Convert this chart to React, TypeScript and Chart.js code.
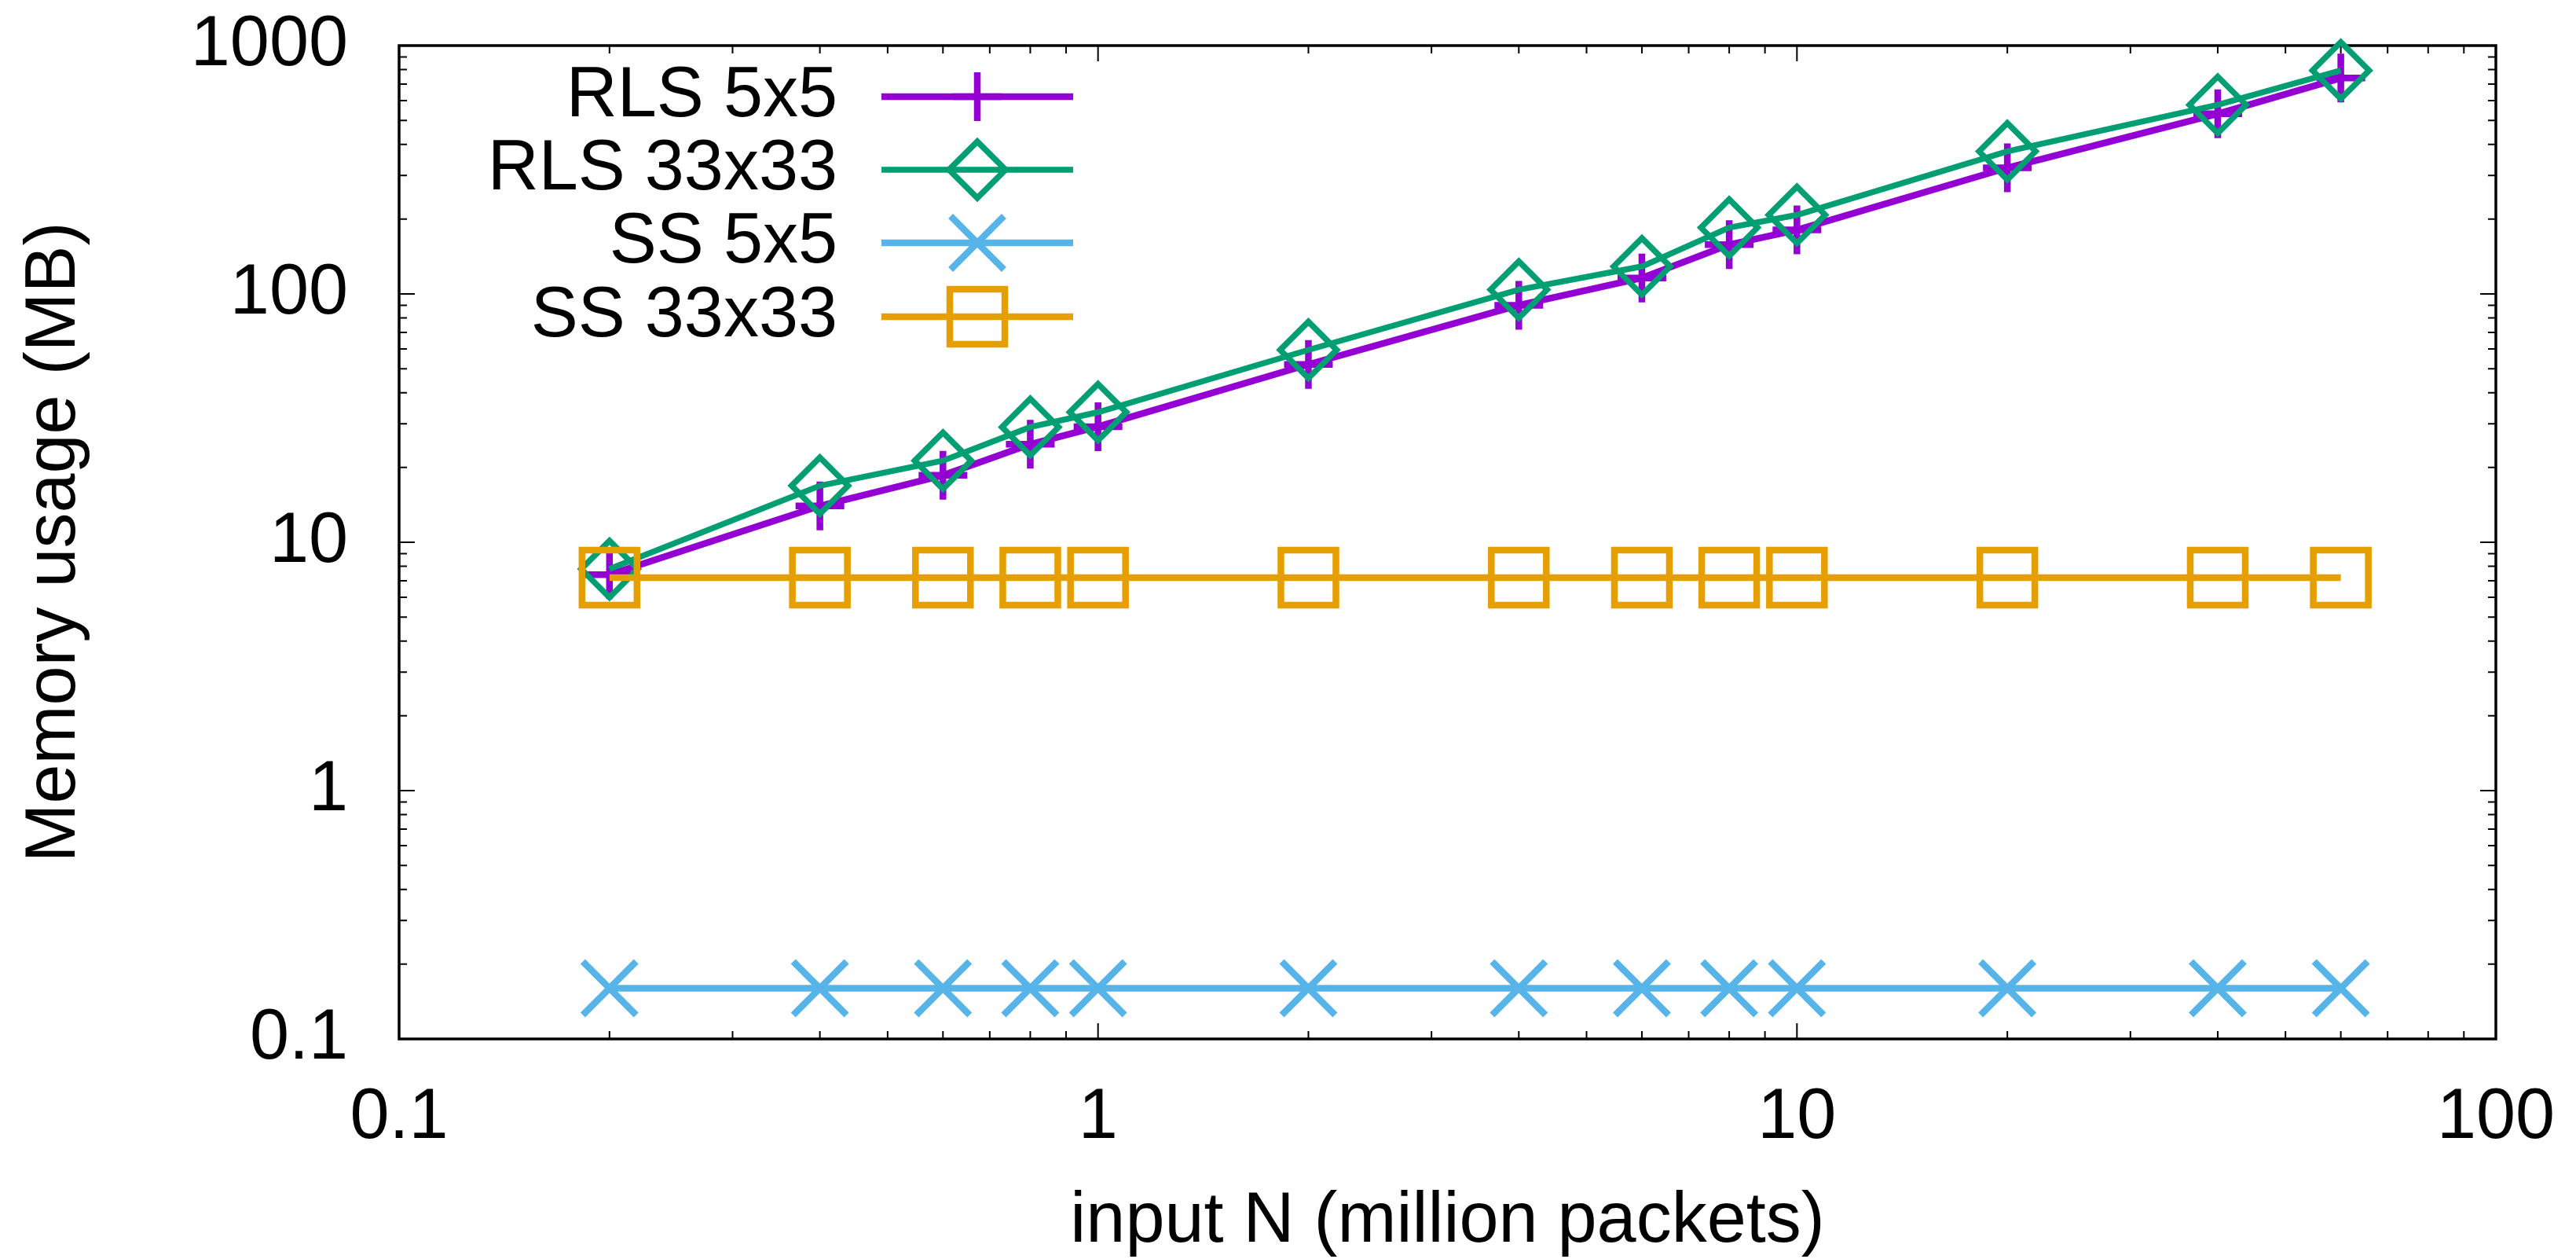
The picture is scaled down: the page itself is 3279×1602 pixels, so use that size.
import React, { useEffect, useRef } from 'react';
import { Chart, registerables } from 'chart.js';

Chart.register(...registerables);

// ---- data ----
const xValues = [0.2, 0.4, 0.6, 0.8, 1, 2, 4, 6, 8, 10, 20, 40, 60];
const rls5x5 = [7.4, 14.0, 18.6, 24.8, 29.2, 52, 90, 116, 158, 181, 322, 531, 740];
const rls33x33 = [7.8, 16.9, 21.3, 29.1, 33.4, 59.5, 104, 129, 185, 208, 375, 577, 794];
const ss5x5 = [0.16, 0.16, 0.16, 0.16, 0.16, 0.16, 0.16, 0.16, 0.16, 0.16, 0.16, 0.16, 0.16];
const ss33x33 = [7.2, 7.2, 7.2, 7.2, 7.2, 7.2, 7.2, 7.2, 7.2, 7.2, 7.2, 7.2, 7.2];

const seriesLabels = ['RLS 5x5', 'RLS 33x33', 'SS 5x5', 'SS 33x33'];
const seriesColors = ['#9400D3', '#009E73', '#56B4E9', '#E69F00'];

const xTickValues = [0.1, 1, 10, 100];
const xTickLabels = ['0.1', '1', '10', '100'];
const yTickValues = [0.1, 1, 10, 100, 1000];
const yTickLabels = ['0.1', '1', '10', '100', '1000'];

const xTitle = 'input N (million packets)';
const yTitle = 'Memory usage (MB)';

const FONT = "'Liberation Sans', Arial, Helvetica, sans-serif";

function toPoints(ys: number[]) {
  return xValues.map((x, i) => ({ x, y: ys[i] }));
}

function minorValues(majors: number[]) {
  const out: number[] = [];
  for (let i = 0; i < majors.length - 1; i++) {
    for (let k = 2; k <= 9; k++) out.push(majors[i] * k);
  }
  return out;
}

function drawMarker(ctx: CanvasRenderingContext2D, style: string, x: number, y: number, r: number) {
  ctx.beginPath();
  if (style === 'cross') {
    ctx.moveTo(x - r, y); ctx.lineTo(x + r, y);
    ctx.moveTo(x, y - r); ctx.lineTo(x, y + r);
  } else if (style === 'crossRot') {
    const d = r * Math.SQRT1_2;
    ctx.moveTo(x - d, y - d); ctx.lineTo(x + d, y + d);
    ctx.moveTo(x + d, y - d); ctx.lineTo(x - d, y + d);
  } else if (style === 'rectRot') {
    ctx.moveTo(x - r, y); ctx.lineTo(x, y - r); ctx.lineTo(x + r, y); ctx.lineTo(x, y + r); ctx.closePath();
  } else if (style === 'rect') {
    const s = r * Math.SQRT1_2;
    ctx.rect(x - s, y - s, 2 * s, 2 * s);
  }
  ctx.stroke();
}

const frameTicksPlugin = {
  id: 'frameTicks',
  beforeDatasetsDraw(chart: any) {
    const { ctx, chartArea } = chart;
    const { left, right, top, bottom } = chartArea;
    const xs = chart.scales.x;
    const ys = chart.scales.y;
    ctx.save();
    ctx.strokeStyle = '#000';
    ctx.lineWidth = 2;
    ctx.beginPath();
    const drawX = (v: number, len: number) => {
      const p = xs.getPixelForValue(v);
      ctx.moveTo(p, bottom); ctx.lineTo(p, bottom - len);
      ctx.moveTo(p, top); ctx.lineTo(p, top + len);
    };
    const drawY = (v: number, len: number) => {
      const p = ys.getPixelForValue(v);
      ctx.moveTo(left, p); ctx.lineTo(left + len, p);
      ctx.moveTo(right, p); ctx.lineTo(right - len, p);
    };
    xTickValues.forEach((v) => drawX(v, 20));
    minorValues(xTickValues).forEach((v) => drawX(v, 10));
    yTickValues.forEach((v) => drawY(v, 20));
    minorValues(yTickValues).forEach((v) => drawY(v, 10));
    ctx.stroke();
    ctx.lineWidth = 3.5;
    ctx.strokeRect(left, top, right - left, bottom - top);
    ctx.restore();
  },
};

const legendPlugin = {
  id: 'gnuLegend',
  afterDatasetsDraw(chart: any) {
    const { ctx } = chart;
    ctx.save();
    const textRight = 1066;
    const lineStart = 1122;
    const lineEnd = 1366;
    const rows = [123, 216, 309, 403];
    chart.data.datasets.forEach((ds: any, i: number) => {
      const y = rows[i];
      ctx.fillStyle = '#000';
      ctx.font = `90px ${FONT}`;
      ctx.textAlign = 'right';
      ctx.textBaseline = 'middle';
      ctx.fillText(ds.label, textRight, y);
      ctx.strokeStyle = ds.borderColor;
      ctx.lineWidth = ds.borderWidth;
      ctx.beginPath();
      ctx.moveTo(lineStart, y);
      ctx.lineTo(lineEnd, y);
      ctx.stroke();
      ctx.lineWidth = ds.pointBorderWidth;
      drawMarker(ctx, ds.pointStyle, (lineStart + lineEnd) / 2, y, ds.pointRadius);
    });
    ctx.restore();
  },
};

const styles = [
  { pointStyle: 'cross', pointRadius: 31, order: 4, lw: 8.5 },
  { pointStyle: 'rectRot', pointRadius: 36, order: 3, lw: 7.5 },
  { pointStyle: 'crossRot', pointRadius: 48, order: 2, lw: 8.5 },
  { pointStyle: 'rect', pointRadius: 49.5, order: 1, lw: 8.5 },
];

function zeroPadding(scale: any) {
  scale.paddingLeft = 0;
  scale.paddingRight = 0;
  scale.paddingTop = 0;
  scale.paddingBottom = 0;
}

export default function App() {
  const ref = useRef<HTMLCanvasElement | null>(null);

  useEffect(() => {
    document.body.style.margin = '0';
    const canvas = ref.current;
    if (!canvas) return;
    const seriesData = [rls5x5, rls33x33, ss5x5, ss33x33];
    const datasets = seriesData.map((d, i) => ({
      label: seriesLabels[i],
      data: toPoints(d),
      borderColor: seriesColors[i],
      backgroundColor: 'rgba(0,0,0,0)',
      pointBackgroundColor: 'rgba(0,0,0,0)',
      pointBorderColor: seriesColors[i],
      borderWidth: styles[i].lw,
      pointBorderWidth: styles[i].lw,
      pointStyle: styles[i].pointStyle,
      pointRadius: styles[i].pointRadius,
      pointHoverRadius: styles[i].pointRadius,
      tension: 0,
      fill: false,
      clip: false as any,
      order: styles[i].order,
    }));

    const chart = new Chart(canvas, {
      type: 'line',
      data: { datasets },
      options: {
        animation: false,
        responsive: false,
        devicePixelRatio: 1,
        events: [],
        layout: { padding: { top: 56, right: 102, left: 0, bottom: 0 } },
        plugins: {
          legend: { display: false },
          tooltip: { enabled: false },
        },
        scales: {
          x: {
            type: 'logarithmic',
            min: 0.1,
            max: 100,
            grid: { display: false },
            border: { display: false },
            afterBuildTicks: (scale: any) => {
              scale.ticks = xTickValues.map((v) => ({ value: v }));
            },
            afterFit: (scale: any) => {
              scale.height = 280;
              zeroPadding(scale);
            },
            ticks: {
              autoSkip: false,
              maxRotation: 0,
              minRotation: 0,
              padding: 48,
              color: '#000',
              font: { size: 90, family: FONT, lineHeight: 1 },
              callback: (_v: any, i: number) => xTickLabels[i],
            },
            title: {
              display: true,
              text: xTitle,
              color: '#000',
              font: { size: 90, family: FONT, lineHeight: 1 },
              padding: { top: 0, bottom: 1.5 },
            },
          },
          y: {
            type: 'logarithmic',
            min: 0.1,
            max: 1000,
            grid: { display: false },
            border: { display: false },
            afterBuildTicks: (scale: any) => {
              scale.ticks = yTickValues.map((v) => ({ value: v }));
            },
            afterFit: (scale: any) => {
              scale.width = 508;
              zeroPadding(scale);
            },
            ticks: {
              autoSkip: false,
              padding: 57,
              color: '#000',
              font: { size: 90, family: FONT, lineHeight: 1 },
              callback: (_v: any, i: number) => yTickLabels[i],
            },
            title: {
              display: true,
              text: yTitle,
              color: '#000',
              font: { size: 90, family: FONT, lineHeight: 1 },
              padding: { top: 25.5, bottom: 0 },
            },
          },
        },
      },
      plugins: [frameTicksPlugin, legendPlugin],
    } as any);

    return () => {
      chart.destroy();
    };
  }, []);

  return (
    <div style={{ width: 3279, height: 1602, background: '#fff' }}>
      <canvas ref={ref} width={3279} height={1602} style={{ display: 'block', width: 3279, height: 1602 }} />
    </div>
  );
}
